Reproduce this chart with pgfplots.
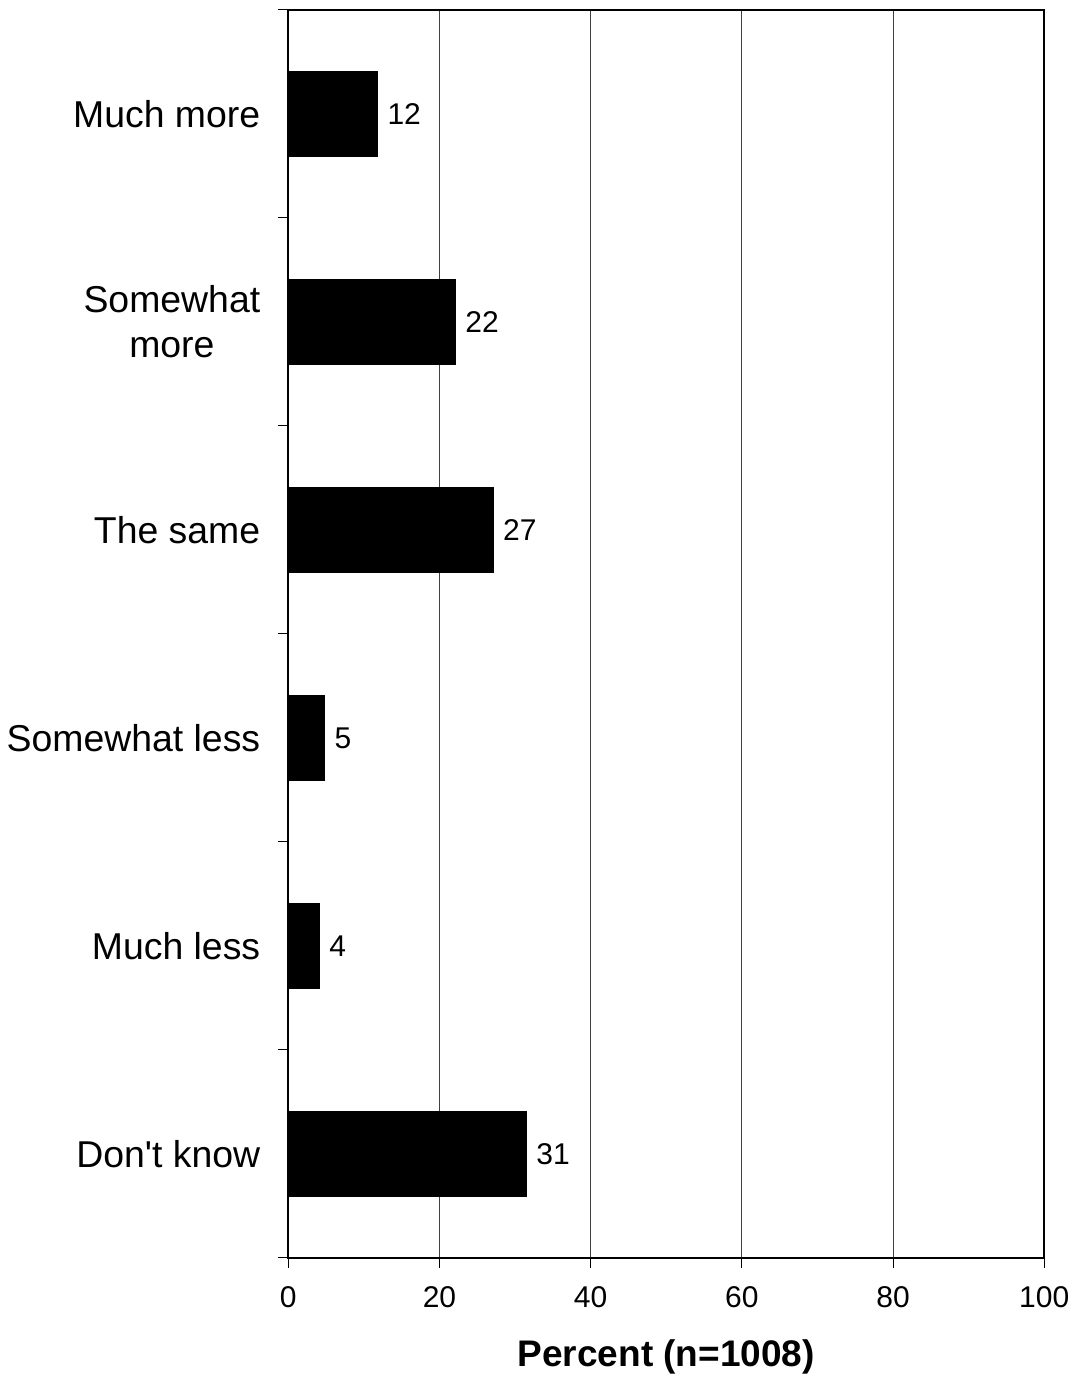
\documentclass[border=0pt]{standalone}
\usepackage{fontspec}
\setmainfont{Liberation Sans}
\usepackage{pgfplots}
\pgfplotsset{compat=1.18}
\begin{document}
\begin{tikzpicture}
\begin{axis}[name=ax,
  scale only axis, width=378pt, height=624pt,
  xbar, bar width=0.41,
  xmin=0, xmax=100, xtick={0,20,...,100},
  ymin=-0.5, ymax=5.5,
  ytick={-0.5,0.5,1.5,2.5,3.5,4.5,5.5}, yticklabels={},
  extra y ticks={0,1,2,3,4,5},
  extra y tick labels={Don\textquotesingle t know,Much less,Somewhat less,The same,{Somewhat\\more},Much more},
  extra y tick style={major tick length=0pt,
    yticklabel style={font=\fontsize{18.7}{22.4}\selectfont, align=center, xshift=-10.5pt}},
  major tick length=5pt, tick align=outside,
  xtick pos=bottom, ytick pos=left,
  tick style={line width=0.5pt, black},
  axis line style={line width=1pt},
  xmajorgrids, major grid style={line width=0.5pt, black!75},
  /pgf/number format/assume math mode=true,
  xticklabel style={font=\fontsize{15}{18}\selectfont, yshift=-6pt},
  xlabel={\textbf{Percent (n=1008)}},
  xlabel style={font=\fontsize{18.5}{22.2}\selectfont, yshift=-9pt},
  point meta=explicit,
  nodes near coords={\pgfmathprintnumber{\pgfplotspointmeta}},
  nodes near coords align=horizontal,
  every node near coord/.append style={font=\fontsize{15}{18}\selectfont, anchor=west, xshift=1.5pt},
]
\addplot[fill=black, draw=black] table[x=x, y=y, meta=lab] {
x     y  lab
11.8  5  12
22.1  4  22
27.1  3  27
4.8   2  5
4.1   1  4
31.5  0  31
};
\end{axis}
\path ([yshift=5pt]ax.north);
\end{tikzpicture}
\end{document}
